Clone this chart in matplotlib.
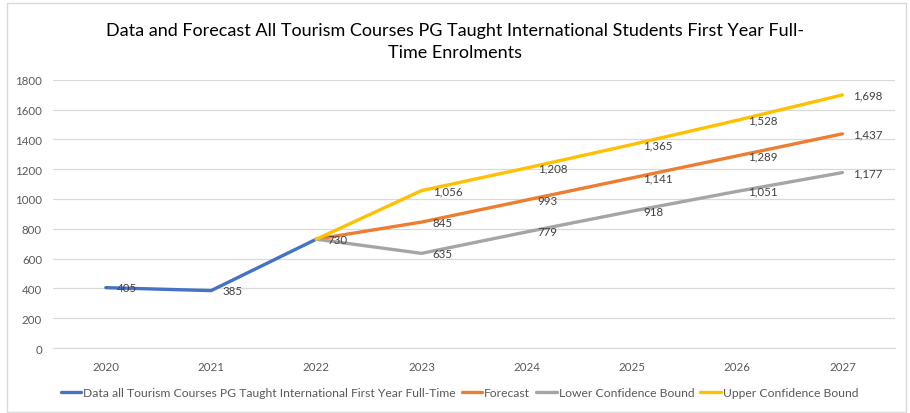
import matplotlib
matplotlib.use("Agg")
import matplotlib.pyplot as plt
from matplotlib.patches import Rectangle

# Daten aus dem Diagramm
jahre = ["2020", "2021", "2022", "2023", "2024", "2025", "2026", "2027"]
daten_jahre = ["2020", "2021", "2022"]
daten_werte = [405, 385, 730]
prognose_jahre = ["2022", "2023", "2024", "2025", "2026", "2027"]
prognose = [730, 845, 993, 1141, 1289, 1437]
untere_grenze = [730, 635, 779, 918, 1051, 1177]
obere_grenze = [730, 1056, 1208, 1365, 1528, 1698]
y_ticks = [0, 200, 400, 600, 800, 1000, 1200, 1400, 1600, 1800]

titel = ("Data and Forecast All Tourism Courses PG Taught International Students First Year Full-\n"
         "Time Enrolments")
legende_namen = ["Data all Tourism Courses PG Taught International First Year Full-Time",
                 "Forecast", "Lower Confidence Bound", "Upper Confidence Bound"]

farben = ["#4472C4", "#ED7D31", "#A5A5A5", "#FFC000"]
text_farbe = "#595959"
gitter_farbe = "#D9D9D9"

plt.rcParams['font.family'] = ['Lato', 'DejaVu Sans']

fig = plt.figure(figsize=(9.1, 4.14), dpi=100)
ax = fig.add_axes([0.0585, 0.157, 0.925, 0.648])

# Rahmen um die ganze Grafik
fig.patches.append(Rectangle((0.008, 0.003), 0.988, 0.987, transform=fig.transFigure,
                             fill=False, edgecolor=gitter_farbe, linewidth=1))

x_pos = {j: i for i, j in enumerate(jahre)}


def zeichne(jahre_liste, werte, farbe, name):
    xs = [x_pos[j] for j in jahre_liste]
    ax.plot(xs, werte, color=farbe, linewidth=2.4, label=name,
            solid_capstyle='round', zorder=3)
    return xs


xs_d = zeichne(daten_jahre, daten_werte, farben[0], legende_namen[0])
xs_p = zeichne(prognose_jahre, prognose, farben[1], legende_namen[1])
xs_u = zeichne(prognose_jahre, untere_grenze, farben[2], legende_namen[2])
xs_o = zeichne(prognose_jahre, obere_grenze, farben[3], legende_namen[3])


# Datenbeschriftungen rechts vom Punkt
def beschriften(xs, werte, ab=0):
    for x, w in list(zip(xs, werte))[ab:]:
        ax.annotate(f"{w:,}" if w >= 1000 else str(w), (x, w), xytext=(8, 0),
                    textcoords="offset points", ha="left", va="center",
                    fontsize=8.3, color="#404040", zorder=4)


beschriften(xs_d, daten_werte)
beschriften(xs_p, prognose, 1)
beschriften(xs_u, untere_grenze, 1)
beschriften(xs_o, obere_grenze, 1)

ax.set_xlim(-0.5, len(jahre) - 0.5)
ax.set_ylim(0, 1800)
ax.set_xticks(range(len(jahre)))
ax.set_xticklabels(jahre)
ax.set_yticks(y_ticks)
ax.grid(axis="y", color=gitter_farbe, linewidth=0.9, zorder=0)
ax.set_axisbelow(True)
for s in ["top", "right", "left"]:
    ax.spines[s].set_visible(False)
ax.spines["bottom"].set_color(gitter_farbe)
ax.tick_params(axis="both", length=0, labelsize=8.3, colors=text_farbe)
ax.tick_params(axis="y", pad=8)
ax.tick_params(axis="x", pad=9)

fig.suptitle(titel, y=0.945, fontsize=13, color="#000000", linespacing=1.5)

fig.legend(loc="center", bbox_to_anchor=(0.505, 0.05), ncol=4, frameon=False,
           fontsize=8.7, handlelength=1.7, handletextpad=0.15, columnspacing=0.5,
           labelcolor=text_farbe)

fig.savefig("out.png", dpi=100)
